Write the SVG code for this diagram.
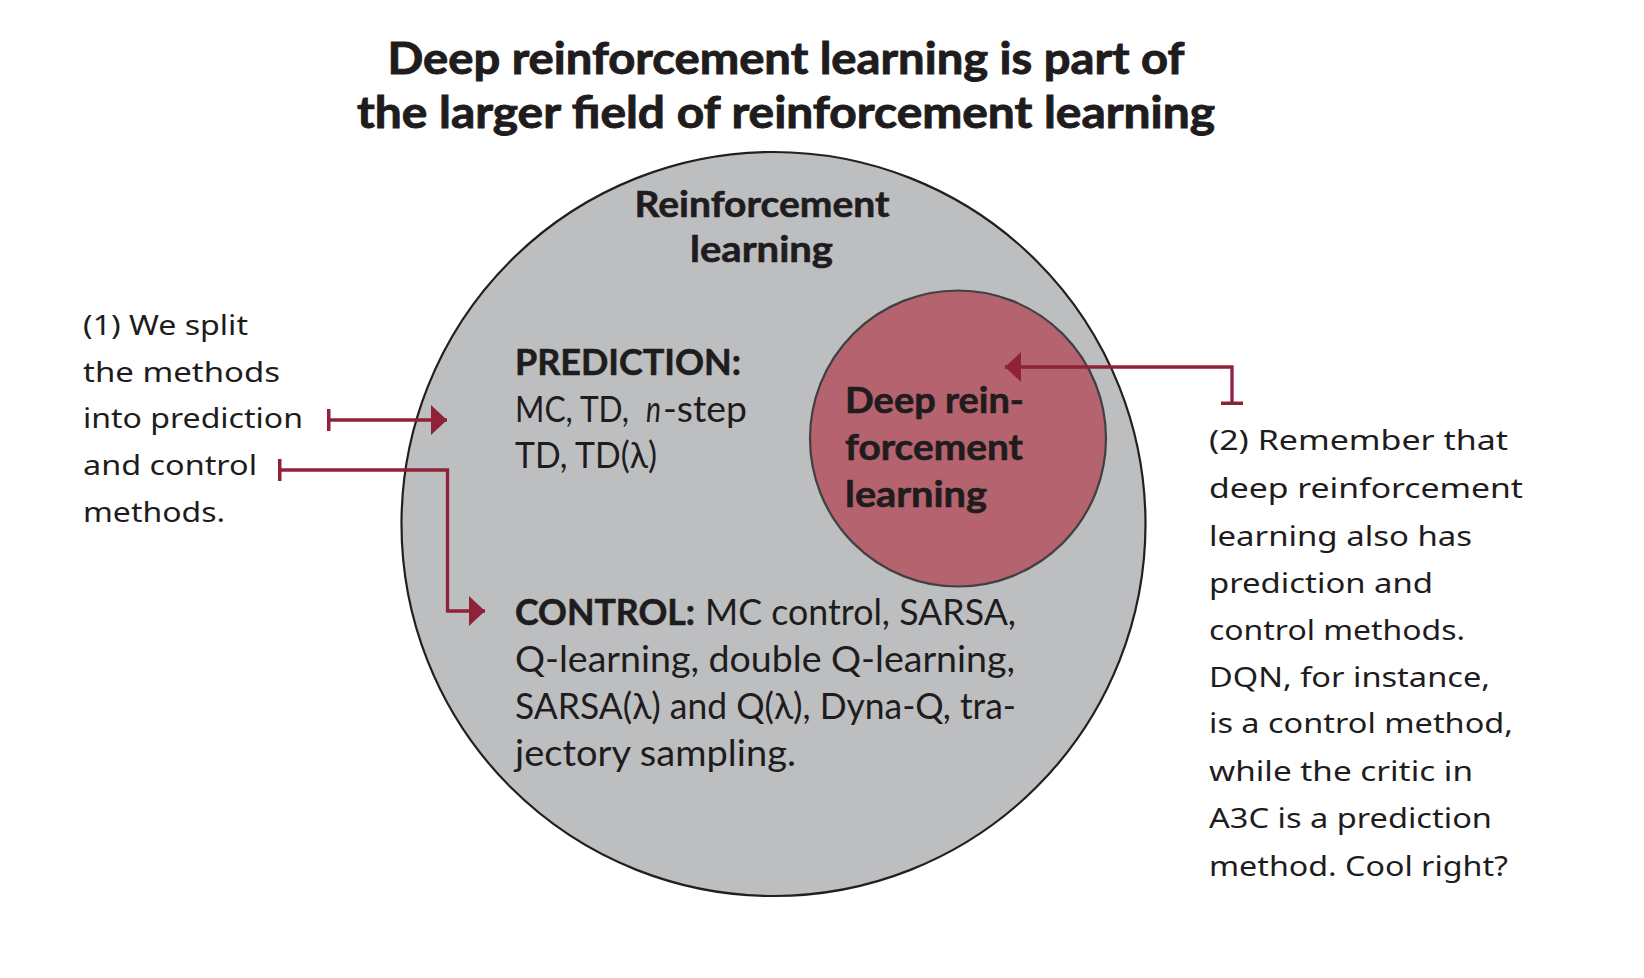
<svg xmlns="http://www.w3.org/2000/svg" width="1644" height="978" viewBox="0 0 1644 978">
<style>
.t{font-family:Lato,"Open Sans","Liberation Sans",sans-serif;fill:#1F1C1D}
.b{font-weight:bold;stroke:#1F1C1D;stroke-width:0.6}
.title{font-size:43px;font-weight:bold;stroke:#1F1C1D;stroke-width:0.9}
.lbl{font-size:37px}
.hw{font-family:"Noto Sans","DejaVu Sans",sans-serif;font-size:28px;fill:#1F1C1D}
.conn{fill:none;stroke:#8F2139;stroke-width:3.3;marker-start:url(#tk);marker-end:url(#ah)}
</style>
<defs>
<marker id="ah" markerUnits="userSpaceOnUse" markerWidth="16" markerHeight="30" refX="16" refY="15" orient="auto"><path d="M0,0 L16,15 L0,30 z" fill="#8F2139"/></marker>
<marker id="tk" markerUnits="userSpaceOnUse" markerWidth="4" markerHeight="24" refX="2" refY="12" orient="auto"><rect x="0" y="1" width="3.5" height="22" fill="#8F2139"/></marker>
</defs>
<rect width="1644" height="978" fill="#fff"/>
<g id="title">
<text class="t title" x="786" y="74" text-anchor="middle" textLength="797" lengthAdjust="spacingAndGlyphs">Deep reinforcement learning is part of</text>
<text class="t title" x="786" y="128" text-anchor="middle" textLength="858" lengthAdjust="spacingAndGlyphs">the larger field of reinforcement learning</text>
</g>
<g id="rl">
<circle cx="773.5" cy="524" r="372" fill="#BCBEC0" stroke="#231F20" stroke-width="2.2"/>
<text class="t lbl b" x="762" y="217" text-anchor="middle" textLength="255" lengthAdjust="spacingAndGlyphs">Reinforcement</text>
<text class="t lbl b" x="761.5" y="262" text-anchor="middle" textLength="143" lengthAdjust="spacingAndGlyphs">learning</text>
</g>
<g id="prediction">
<text class="t lbl b" x="515" y="375" textLength="226" lengthAdjust="spacingAndGlyphs">PREDICTION:</text>
<text class="t lbl" x="515" y="422" textLength="114" lengthAdjust="spacingAndGlyphs">MC, TD,</text>
<text class="t lbl" x="646" y="422" font-style="italic" textLength="15" lengthAdjust="spacingAndGlyphs">n</text>
<text class="t lbl" x="663" y="422" textLength="84" lengthAdjust="spacingAndGlyphs">-step</text>
<text class="t lbl" x="515" y="468" textLength="142" lengthAdjust="spacingAndGlyphs">TD, TD(λ)</text>
</g>
<g id="control">
<text class="t lbl b" x="515" y="625" textLength="180" lengthAdjust="spacingAndGlyphs">CONTROL:</text>
<text class="t lbl" x="705" y="625" textLength="311" lengthAdjust="spacingAndGlyphs">MC control, SARSA,</text>
<text class="t lbl" x="515" y="672" textLength="500" lengthAdjust="spacingAndGlyphs">Q-learning, double Q-learning,</text>
<text class="t lbl" x="515" y="719" textLength="501" lengthAdjust="spacingAndGlyphs">SARSA(λ) and Q(λ), Dyna-Q, tra-</text>
<text class="t lbl" x="515" y="766" textLength="281" lengthAdjust="spacingAndGlyphs">jectory sampling.</text>
</g>
<g id="drl">
<circle cx="958" cy="438.5" r="148" fill="#B5636F" stroke="#414042" stroke-width="2.2"/>
<text class="t lbl b" x="845" y="413" textLength="179" lengthAdjust="spacingAndGlyphs">Deep rein-</text>
<text class="t lbl b" x="845" y="460" textLength="178" lengthAdjust="spacingAndGlyphs">forcement</text>
<text class="t lbl b" x="845" y="507" textLength="142" lengthAdjust="spacingAndGlyphs">learning</text>
</g>
<g id="note1">
<text class="hw" x="83" y="335" textLength="165" lengthAdjust="spacingAndGlyphs">(1) We split</text>
<text class="hw" x="83" y="382" textLength="197" lengthAdjust="spacingAndGlyphs">the methods</text>
<text class="hw" x="83" y="428" textLength="220" lengthAdjust="spacingAndGlyphs">into prediction</text>
<text class="hw" x="83" y="475" textLength="174" lengthAdjust="spacingAndGlyphs">and control</text>
<text class="hw" x="83" y="522" textLength="142" lengthAdjust="spacingAndGlyphs">methods.</text>
</g>
<g id="note2">
<text class="hw" x="1209" y="450" textLength="299" lengthAdjust="spacingAndGlyphs">(2) Remember that</text>
<text class="hw" x="1209" y="498" textLength="314" lengthAdjust="spacingAndGlyphs">deep reinforcement</text>
<text class="hw" x="1209" y="546" textLength="263" lengthAdjust="spacingAndGlyphs">learning also has</text>
<text class="hw" x="1209" y="593" textLength="224" lengthAdjust="spacingAndGlyphs">prediction and</text>
<text class="hw" x="1209" y="640" textLength="256" lengthAdjust="spacingAndGlyphs">control methods.</text>
<text class="hw" x="1209" y="687" textLength="281" lengthAdjust="spacingAndGlyphs">DQN, for instance,</text>
<text class="hw" x="1209" y="733" textLength="304" lengthAdjust="spacingAndGlyphs">is a control method,</text>
<text class="hw" x="1209" y="781" textLength="264" lengthAdjust="spacingAndGlyphs">while the critic in</text>
<text class="hw" x="1209" y="828" textLength="283" lengthAdjust="spacingAndGlyphs">A3C is a prediction</text>
<text class="hw" x="1209" y="876" textLength="299" lengthAdjust="spacingAndGlyphs">method. Cool right?</text>
</g>
<g id="connectors">
<path class="conn" d="M329,420 H447"/>
<path class="conn" d="M280,470 H447.5 V611 H485"/>
<path class="conn" d="M1232,403 V367 H1005"/>
</g>
</svg>
